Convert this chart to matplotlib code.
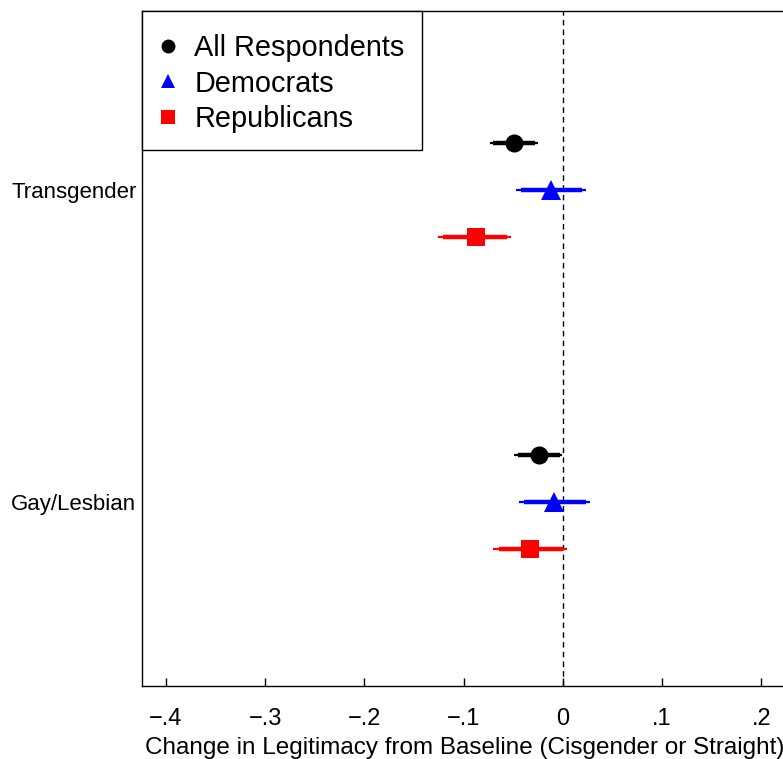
import matplotlib
matplotlib.use("Agg")
import matplotlib.pyplot as plt
from matplotlib.lines import Line2D
from matplotlib.patches import Rectangle

plt.rcParams['font.family'] = ['Liberation Sans', 'DejaVu Sans']

categories = ["Gay/Lesbian", "Transgender"]
groups = ["All Respondents", "Democrats", "Republicans"]
colors = ["black", "blue", "red"]
markers = ["o", "^", "s"]
offsets = [0.15, 0.0, -0.15]
msizes = [13, 14, 13]

# estimates per group, order matches categories
est = {
    "All Respondents": [-0.024, -0.049],
    "Democrats": [-0.009, -0.012],
    "Republicans": [-0.033, -0.088],
}
ci95_lo = {
    "All Respondents": [-0.049, -0.073],
    "Democrats": [-0.044, -0.047],
    "Republicans": [-0.070, -0.126],
}
ci95_hi = {
    "All Respondents": [-0.001, -0.025],
    "Democrats": [0.027, 0.023],
    "Republicans": [0.004, -0.052],
}
ci90_lo = {
    "All Respondents": [-0.045, -0.070],
    "Democrats": [-0.039, -0.042],
    "Republicans": [-0.064, -0.121],
}
ci90_hi = {
    "All Respondents": [-0.003, -0.028],
    "Democrats": [0.023, 0.019],
    "Republicans": [0.000, -0.056],
}
xticks = [-0.4, -0.3, -0.2, -0.1, 0.0, 0.1, 0.2]
xticklabels = ["\u2212.4", "\u2212.3", "\u2212.2", "\u2212.1", "0", ".1", ".2"]
xlabel = "Change in Legitimacy from Baseline (Cisgender or Straight)"

W, H = 783, 759
fig = plt.figure(figsize=(W / 100, H / 100), dpi=100)
ax = fig.add_axes([142 / W, 73 / H, (811 - 142) / W, (686 - 11) / H])

ax.axvline(0, color="black", lw=1.0, ls=(0, (4, 3)), zorder=1)

handles = []
for g, c, m, off, ms in zip(groups, colors, markers, offsets, msizes):
    for i in range(len(categories)):
        y = i + off
        ax.plot([ci95_lo[g][i], ci95_hi[g][i]], [y, y], color=c, lw=1.6,
                solid_capstyle="butt", zorder=2)
        ax.plot([ci90_lo[g][i], ci90_hi[g][i]], [y, y], color=c, lw=3.2,
                solid_capstyle="butt", zorder=3)
        ax.plot([est[g][i]], [y], marker=m, color=c, ms=ms, ls="none",
                markeredgewidth=0, zorder=4)
    handles.append(Line2D([], [], marker=m, color=c, ls="none", ms=10,
                          markeredgewidth=0, label=g))

ax.set_xlim(-0.424, 0.25)
ax.set_ylim(-0.59, 1.574)
ax.set_yticks(range(len(categories)))
ax.set_yticklabels(categories, fontsize=16)
ax.tick_params(axis="y", length=0, pad=4)
ax.set_xticks(xticks)
ax.set_xticklabels(xticklabels, fontsize=17)
ax.tick_params(axis="x", direction="in", length=6, width=1, pad=16)
for s in ax.spines.values():
    s.set_linewidth(1.0)
    s.set_color("black")

fig.text(145 / W, 1 - 748 / H, xlabel, fontsize=17.5, ha="left", va="center")

# legend frame
fig.patches.append(Rectangle((142 / W, 1 - 150 / H), (422 - 142) / W,
                             (150 - 11) / H, transform=fig.transFigure,
                             facecolor="white", edgecolor="black", lw=1.0,
                             zorder=5))
leg = fig.legend(handles=handles, loc="upper left",
                 bbox_to_anchor=(154 / W, 1 - 34 / H), fontsize=20.8,
                 frameon=False, borderaxespad=0, borderpad=0,
                 handletextpad=0.42, labelspacing=0.26, handlelength=0.97)
leg.set_zorder(6)

fig.savefig("out.png", dpi=100)
